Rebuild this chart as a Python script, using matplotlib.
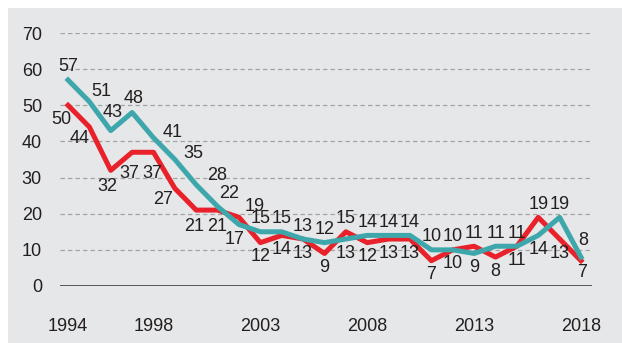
import matplotlib.pyplot as plt
from matplotlib.patches import Rectangle

plt.rcParams['font.family'] = ['Liberation Sans', 'DejaVu Sans']

years = list(range(1994, 2019))
red_values = [50, 44, 32, 37, 37, 27, 21, 21, 19, 12, 14, 13, 9, 15, 12,
              13, 13, 7, 10, 11, 8, 11, 19, 13, 7]
teal_values = [57, 51, 43, 48, 41, 35, 28, 22, 17, 15, 15, 13, 12, 13, 14,
               14, 14, 10, 10, 9, 11, 11, 14, 19, 8]
x_ticks = [1994, 1998, 2003, 2008, 2013, 2018]

RED = '#e8212b'
TEAL = '#3ea7ab'
TEXT = '#231f20'
PANEL = '#e6e7e8'

# hand-placed label offsets (pixels, +y = down) where the lines run close
teal_offsets = {1994: (0, -13), 1995: (12, -10), 1996: (2, -18), 1997: (1, -14),
                1998: (19, -5), 1999: (18, -6), 2000: (21, -9), 2001: (12, -13),
                2002: (-4, 15), 2018: (2, -17)}
red_offsets = {1994: (-7, 14), 1995: (-10, 12), 1996: (-3, 16), 1997: (-3, 21),
               1998: (-1, 21), 1999: (-12, 11), 2000: (-2, 16), 2001: (0, 16),
               2002: (16, -11), 2018: (1, 12)}

fig = plt.figure(figsize=(6.22, 3.43), dpi=100, facecolor='white')
fig.patches.append(Rectangle((8 / 622, -0.05), 1.1, 1.05 - 8 / 343, transform=fig.transFigure,
                             facecolor=PANEL, edgecolor='none', zorder=-5))

ax = fig.add_axes([60 / 622, 1 - 286 / 343, 532 / 622, 253 / 343])
ax.set_facecolor('none')
ax.set_xlim(1994 - 8 / 21.375, 2018 + 11 / 21.375)
ax.set_ylim(0, 70)

for s in ax.spines.values():
    s.set_visible(False)

ax.set_yticks(range(0, 71, 10))
for v in range(10, 71, 10):
    ax.axhline(v, color='#a3a3a3', lw=0.9, dashes=(3.5, 2.5), zorder=1)
ax.axhline(0, color='#4d4d4f', lw=1.3, zorder=1)

ax.set_xticks(x_ticks)
ax.tick_params(axis='both', length=0, labelsize=13, labelcolor=TEXT)
ax.tick_params(axis='y', pad=13)
ax.tick_params(axis='x', pad=23)

ax.plot(years, red_values, color=RED, lw=3.6, zorder=3)
ax.plot(years, teal_values, color=TEAL, lw=3.6, zorder=4)

for i, yr in enumerate(years):
    r, t = red_values[i], teal_values[i]
    if yr in red_offsets:
        r_off, t_off = red_offsets[yr], teal_offsets[yr]
    elif t >= r:
        t_off, r_off = (0, -13), (0, 14)
    else:
        r_off, t_off = (0, -13), (0, 14)
    for val, (dx, dy) in ((r, r_off), (t, t_off)):
        ax.annotate(str(val), (yr, val), xytext=(dx, -dy), textcoords='offset pixels',
                    ha='center', va='center', fontsize=13, color=TEXT, zorder=5)

fig.savefig('out.png', dpi=100)
